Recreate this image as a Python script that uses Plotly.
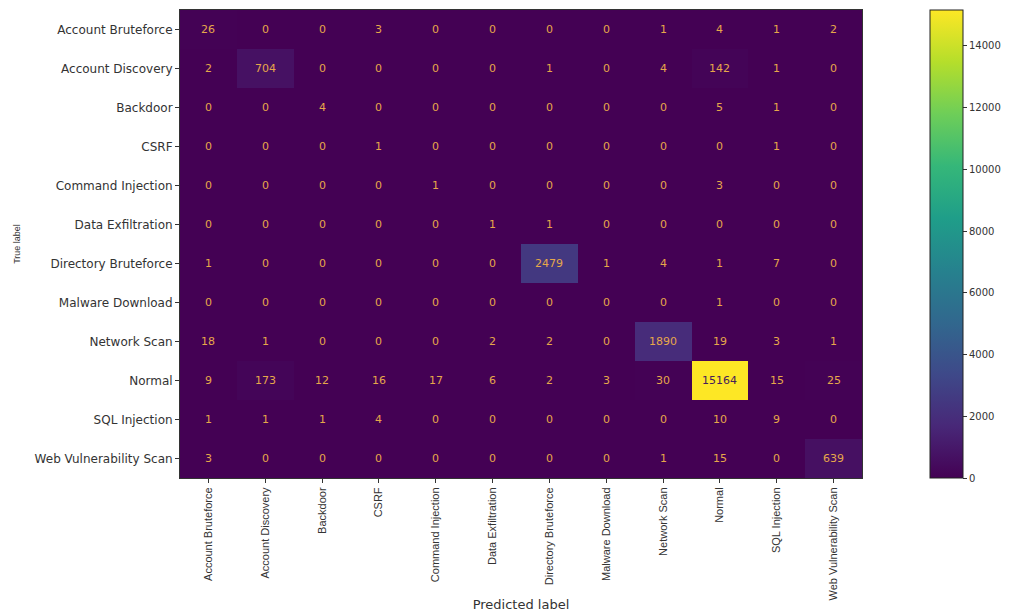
import plotly.graph_objects as go

labels = ["Account Bruteforce", "Account Discovery", "Backdoor", "CSRF",
          "Command Injection", "Data Exfiltration", "Directory Bruteforce",
          "Malware Download", "Network Scan", "Normal", "SQL Injection",
          "Web Vulnerability Scan"]

row_account_bruteforce = [26, 0, 0, 3, 0, 0, 0, 0, 1, 4, 1, 2]
row_account_discovery = [2, 704, 0, 0, 0, 0, 1, 0, 4, 142, 1, 0]
row_backdoor = [0, 0, 4, 0, 0, 0, 0, 0, 0, 5, 1, 0]
row_csrf = [0, 0, 0, 1, 0, 0, 0, 0, 0, 0, 1, 0]
row_command_injection = [0, 0, 0, 0, 1, 0, 0, 0, 0, 3, 0, 0]
row_data_exfiltration = [0, 0, 0, 0, 0, 1, 1, 0, 0, 0, 0, 0]
row_directory_bruteforce = [1, 0, 0, 0, 0, 0, 2479, 1, 4, 1, 7, 0]
row_malware_download = [0, 0, 0, 0, 0, 0, 0, 0, 0, 1, 0, 0]
row_network_scan = [18, 1, 0, 0, 0, 2, 2, 0, 1890, 19, 3, 1]
row_normal = [9, 173, 12, 16, 17, 6, 2, 3, 30, 15164, 15, 25]
row_sql_injection = [1, 1, 1, 4, 0, 0, 0, 0, 0, 10, 9, 0]
row_web_vuln_scan = [3, 0, 0, 0, 0, 0, 0, 0, 1, 15, 0, 639]

matrix = [row_account_bruteforce, row_account_discovery, row_backdoor, row_csrf,
          row_command_injection, row_data_exfiltration, row_directory_bruteforce,
          row_malware_download, row_network_scan, row_normal, row_sql_injection,
          row_web_vuln_scan]

cbar_ticks = [0, 2000, 4000, 6000, 8000, 10000, 12000, 14000]

zmax = max(max(r) for r in matrix)

fig = go.Figure(go.Heatmap(
    z=matrix, x=labels, y=labels,
    colorscale="Viridis", zmin=0, zmax=zmax,
    showscale=True,
    colorbar=dict(
        x=1.1, xanchor="left", y=0.5, yanchor="middle",
        len=1.0, lenmode="fraction", thickness=33, thicknessmode="pixels",
        outlinecolor="#222", outlinewidth=1,
        tickvals=cbar_ticks, ticktext=[str(t) for t in cbar_ticks],
        ticks="outside", ticklen=4, tickcolor="#333",
        tickfont=dict(family="DejaVu Sans", size=10, color="#333"),
        xpad=0, ypad=0,
    ),
    hoverinfo="skip",
))

annotations = []
for i, row in enumerate(matrix):
    for j, v in enumerate(row):
        annotations.append(dict(
            x=labels[j], y=labels[i], text=str(v), showarrow=False,
            font=dict(family="DejaVu Sans", size=11,
                      color="#45205a" if v > zmax / 2 else "#e6a84a"),
        ))

fig.update_layout(
    width=1005, height=604,
    margin=dict(l=172, r=151, t=2, b=134, autoexpand=False),
    paper_bgcolor="white", plot_bgcolor="white",
    annotations=annotations,
    xaxis=dict(
        title=dict(text="Predicted label", font=dict(family="DejaVu Sans", size=13, color="#333"), standoff=2),
        tickangle=-90, tickfont=dict(family="Liberation Sans", size=11, color="#333"),
        ticks="outside", ticklen=4, tickcolor="#333", automargin=False,
        showline=True, linecolor="#333", mirror=True, showgrid=False,
    ),
    yaxis=dict(
        title=dict(text="True label", font=dict(family="Liberation Sans", size=9, color="#333"), standoff=12),
        autorange="reversed", automargin=False,
        tickfont=dict(family="DejaVu Sans", size=12, color="#333"),
        ticks="outside", ticklen=4, tickcolor="#333",
        showline=True, linecolor="#333", mirror=True, showgrid=False,
    ),
)

fig.write_html("out.html")
